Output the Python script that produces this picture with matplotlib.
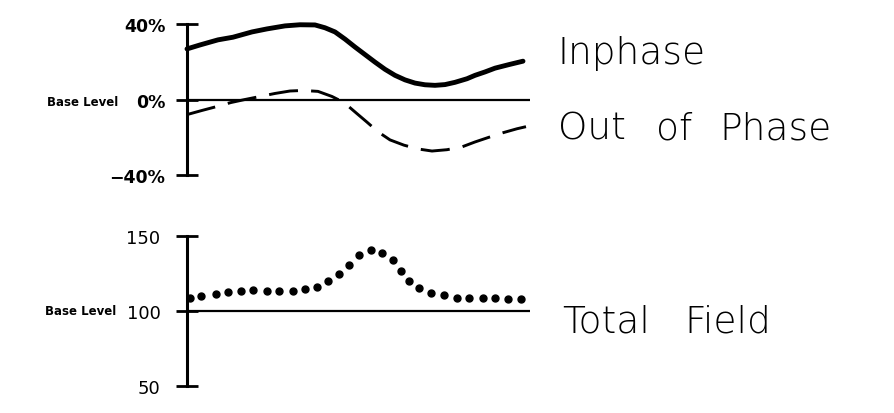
"""
EM survey profile: inphase / out of phase and total field
"""

import matplotlib
import matplotlib.pyplot as plt

matplotlib.use("agg")

# station positions (along-line distance) and readings
inphase_x = [0, 13, 31, 46, 65, 80, 98, 113, 128, 138, 148, 158, 168, 180,
             188, 198, 208, 218, 228, 238, 248, 258, 268, 280, 288, 298,
             308, 322, 336]
inphase_pct = [26.8, 28.9, 31.6, 33.0, 35.8, 37.4, 39.0, 39.6, 39.5, 38.0,
               35.8, 32.0, 27.8, 23.0, 19.8, 16.0, 12.8, 10.4, 8.7, 7.8,
               7.5, 7.9, 9.1, 11.0, 12.8, 14.6, 16.6, 18.5, 20.3]

outphase_x = [0, 15, 30, 44, 58, 73, 88, 103, 116, 131, 145, 157, 170, 180,
              191, 203, 217, 231, 245, 260, 275, 288, 302, 316, 330, 339]
outphase_pct = [-8.0, -5.8, -3.7, -1.6, 0.0, 1.6, 3.2, 4.5, 4.8, 4.3, 1.6,
                -1.6, -7.5, -12.0, -17.1, -21.4, -24.2, -26.2, -27.3, -26.6,
                -25.1, -22.5, -20.0, -17.6, -15.5, -14.4]

field_x = [3, 14, 29, 41, 54, 66, 80, 92, 106, 118, 130, 141, 152, 162, 172,
           184, 195, 206, 214, 222, 232, 244, 257, 270, 282, 296, 308, 321,
           334]
field_val = [108.8, 110.1, 111.5, 112.8, 113.5, 114.2, 113.5, 113.5, 113.5,
             114.9, 116.2, 120.3, 125.0, 131.0, 137.2, 140.5, 138.5, 133.8,
             127.0, 120.3, 115.5, 112.2, 110.8, 108.8, 108.8, 108.8, 108.8,
             108.1, 108.1]

em_ticks = [-40, 0, 40]
em_labels = ["\u221240%", "0%", "40%"]
mag_ticks = [50, 100, 150]
mag_labels = ["50", "100", "150"]

# curve names, split into words with their left edge (px)
em_words = [("Inphase", 558, 64), ("Out", 558, 140), ("of", 656, 140),
            ("Phase", 719, 140)]
mag_words = [("Total", 562, 333), ("Field", 684, 333)]

W, H = 894, 414
XMAX = 343
LABEL_FONT = dict(family="DejaVu Sans", weight="light", fontsize=27)


def style_axis(ax, ticks, labels, bold, pad, size):
    """ keep only the left spine with cross ticks """
    for side in ("top", "right", "bottom"):
        ax.spines[side].set_visible(False)
    ax.spines["left"].set_linewidth(2.2)
    ax.set_xticks([])
    ax.set_yticks(ticks)
    ax.set_yticklabels(labels, fontsize=size,
                       fontweight="bold" if bold else "normal")
    ax.tick_params(axis="y", direction="inout", length=16, width=2, pad=pad)
    ax.set_xlim(0, XMAX)
    ax.set_facecolor("none")


def main():
    fig = plt.figure(figsize=(W / 100, H / 100), dpi=100)

    # top panel: inphase / out of phase
    ax1 = fig.add_axes([187 / W, (H - 176) / H, XMAX / W, 151 / H])
    ax1.plot(inphase_x, inphase_pct, color="black", lw=3.5,
             solid_capstyle="round", solid_joinstyle="round", clip_on=False)
    ax1.plot(outphase_x, outphase_pct, color="black", lw=2.1,
             dashes=(10, 4.5), dash_joinstyle="round", clip_on=False)
    ax1.axhline(0, color="black", lw=1.6)
    ax1.set_ylim(-40, 40)
    style_axis(ax1, em_ticks, em_labels, True, 7.5, 12.5)

    # bottom panel: total field
    ax2 = fig.add_axes([187 / W, (H - 387) / H, XMAX / W, 150 / H])
    ax2.plot(field_x, field_val, "o", color="black", ms=5, clip_on=False)
    ax2.axhline(100, color="black", lw=1.6)
    ax2.set_ylim(50, 150)
    style_axis(ax2, mag_ticks, mag_labels, False, 11, 13)

    fig.text(118 / W, 1 - 102 / H, "Base Level", ha="right", va="center",
             fontsize=8.5, fontweight="bold")
    fig.text(116 / W, 1 - 312 / H, "Base Level", ha="right", va="center",
             fontsize=8.5, fontweight="bold")

    for word, x, y in em_words + mag_words:
        fig.text(x / W, 1 - y / H, word, va="baseline", **LABEL_FONT)

    fig.savefig("out.png", dpi=100)


if __name__ == "__main__":
    main()
